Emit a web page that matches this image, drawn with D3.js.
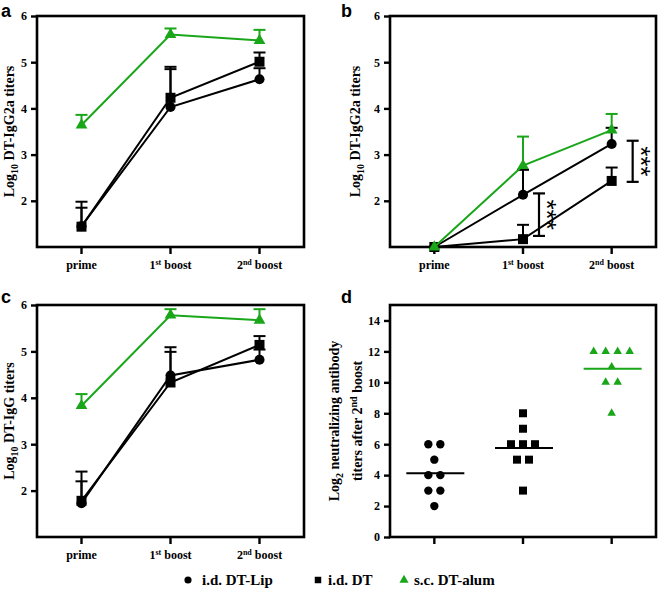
<!DOCTYPE html>
<html>
<head>
<meta charset="utf-8">
<script src="https://cdn.jsdelivr.net/npm/d3@7"></script>
<style>
  body { margin: 0; background: #fff; }
  svg { display: block; }
  text { font-family: "Liberation Serif", "Times New Roman", serif; font-weight: bold; fill: #000; }
</style>
</head>
<body>
<svg width="659" height="599"></svg>
<script>
const stages = ["prime", "1st boost", "2nd boost"];
const groups = ["i.d. DT-Lip", "i.d. DT", "s.c. DT-alum"];

// panel a - log10 DT-IgG2a (mean, upper error)
const aLip = [1.45, 4.03, 4.63];
const aLipErr = [1.85, 4.85, 4.87];
const aDT = [1.44, 4.23, 5.01];
const aDTErr = [1.98, 4.90, 5.21];
const aAlum = [3.64, 5.60, 5.47];
const aAlumErr = [3.86, 5.73, 5.70];

// panel b
const bLip = [1.0, 2.13, 3.23];
const bLipErr = [1.0, 2.67, 3.58];
const bDT = [1.0, 1.17, 2.43];
const bDTErr = [1.0, 1.48, 2.72];
const bAlum = [1.0, 2.76, 3.53];
const bAlumErr = [1.0, 3.39, 3.88];
const sigStage = ["1st boost", "2nd boost"];
const sigHi = [2.16, 3.30];
const sigLo = [1.24, 2.41];
const sigText = ["***", "***"];

// panel c - log10 DT-IgG
const cLip = [1.73, 4.48, 4.82];
const cLipErr = [2.20, 4.99, 5.04];
const cDT = [1.78, 4.33, 5.14];
const cDTErr = [2.41, 5.09, 5.33];
const cAlum = [3.83, 5.78, 5.67];
const cAlumErr = [4.08, 5.91, 5.91];

// panel d - log2 neutralizing titers, individual animals
const dLip = [6, 6, 5, 4, 4, 3, 3, 2];
const dDT = [8, 7, 6, 6, 6, 5, 5, 3];
const dAlum = [12, 12, 12, 12, 11, 10, 10, 8];

const green = "#19a619";
const colors = ["#000", "#000", green];
const shapes = [d3.symbolCircle, d3.symbolSquare, d3.symbolTriangle];

const svg = d3.select("svg");

function frame(g, box) {
  g.append("rect")
    .attr("x", box.l).attr("y", box.t)
    .attr("width", box.r - box.l).attr("height", box.b - box.t)
    .attr("fill", "none").attr("stroke", "#000").attr("stroke-width", 2.6);
}

function yAxis(g, y, box, ticks) {
  const ax = g.append("g")
    .attr("transform", `translate(${box.l},0)`)
    .call(d3.axisLeft(y).tickValues(ticks).tickFormat(d3.format("d")).tickSize(6).tickPadding(4));
  ax.attr("font-family", null);
  ax.select(".domain").remove();
  ax.selectAll(".tick line").attr("stroke-width", 2.4);
  ax.selectAll(".tick text")
    .style("font-family", "'Liberation Serif', serif").style("font-weight", "bold")
    .style("font-size", "12px");
}

function xTicks(g, x, box, withLabels) {
  stages.forEach(s => {
    g.append("line")
      .attr("x1", x(s)).attr("x2", x(s))
      .attr("y1", box.b).attr("y2", box.b + 7)
      .attr("stroke", "#000").attr("stroke-width", 2.4);
    if (!withLabels) return;
    const m = s.match(/^(\d)(st|nd|rd|th) (.*)$/);
    const t = g.append("text")
      .attr("x", x(s)).attr("y", box.b + 22)
      .attr("text-anchor", "middle").style("font-size", "12px");
    if (m) {
      t.append("tspan").text(m[1]);
      t.append("tspan").attr("dy", -4).style("font-size", "8px").text(m[2]);
      t.append("tspan").attr("dy", 4).text(" " + m[3]);
    } else {
      t.text(s);
    }
  });
}

function yLabel(g, x, yc, parts) {
  const t = g.append("text")
    .attr("transform", `translate(${x},${yc}) rotate(-90)`)
    .attr("text-anchor", "middle").style("font-size", "14px");
  parts.forEach(p => {
    const sp = t.append("tspan").text(p.t);
    if (p.sub) sp.attr("dy", 4).style("font-size", "10px");
    if (p.sup) sp.attr("dy", -5).style("font-size", "10px");
    if (p.back) sp.attr("dy", p.back);
  });
}

function panelLetter(x, y, s) {
  svg.append("text").attr("x", x).attr("y", y)
    .style("font-family", "'Liberation Sans', sans-serif").style("font-weight", "bold")
    .style("font-size", "18px").text(s);
}

function linePanel(box, series, errs, labelX, labelParts) {
  const g = svg.append("g");
  const x = d3.scalePoint().domain(stages).range([box.l, box.r]).padding(0.5);
  const y = d3.scaleLinear().domain([1, 6]).range([box.b, box.t]);

  frame(g, box);
  yAxis(g, y, box, [2, 3, 4, 5, 6]);
  xTicks(g, x, box, true);
  yLabel(g, labelX, (box.t + box.b) / 2, labelParts);

  const line = d3.line().x((d, i) => x(stages[i])).y(d => y(d));

  series.forEach((vals, k) => {
    const sg = g.append("g");
    // error bars (upper only)
    vals.forEach((v, i) => {
      const e = errs[k][i];
      if (e <= v) return;
      sg.append("line")
        .attr("x1", x(stages[i])).attr("x2", x(stages[i]))
        .attr("y1", y(v)).attr("y2", y(e))
        .attr("stroke", colors[k]).attr("stroke-width", 2);
      sg.append("line")
        .attr("x1", x(stages[i]) - 6).attr("x2", x(stages[i]) + 6)
        .attr("y1", y(e)).attr("y2", y(e))
        .attr("stroke", colors[k]).attr("stroke-width", 2);
    });
    sg.append("path").datum(vals)
      .attr("d", line).attr("fill", "none")
      .attr("stroke", colors[k]).attr("stroke-width", 2);
    sg.selectAll("path.pt").data(vals).join("path")
      .attr("class", "pt")
      .attr("transform", (d, i) => `translate(${x(stages[i])},${y(d)})`)
      .attr("d", d3.symbol().type(shapes[k]).size(k === 0 ? 80 : k === 1 ? 100 : 60))
      .attr("fill", colors[k]);
  });
  return { g, x, y };
}

const boxA = { l: 37, r: 304, t: 16, b: 247 };
const boxB = { l: 390, r: 656, t: 16, b: 247 };
const boxC = { l: 37, r: 304, t: 305, b: 537 };
const boxD = { l: 390, r: 656, t: 305, b: 537 };

const igg2a = [{ t: "Log" }, { t: "10", sub: true }, { t: " DT-IgG2a titers", back: -4 }];

linePanel(boxA, [aLip, aDT, aAlum], [aLipErr, aDTErr, aAlumErr], 14, igg2a);
const pb = linePanel(boxB, [bLip, bDT, bAlum], [bLipErr, bDTErr, bAlumErr], 360, igg2a);
linePanel(boxC, [cLip, cDT, cAlum], [cLipErr, cDTErr, cAlumErr], 14,
  [{ t: "Log" }, { t: "10", sub: true }, { t: " DT-IgG titers", back: -4 }]);

// significance brackets in b
const sigOffset = [16, 21];
sigStage.forEach((s, i) => {
  const bx = pb.x(s) + sigOffset[i];
  const y1 = pb.y(sigHi[i]), y2 = pb.y(sigLo[i]);
  const sg = pb.g.append("g").attr("stroke", "#000").attr("stroke-width", 2.2);
  sg.append("line").attr("x1", bx).attr("x2", bx).attr("y1", y1).attr("y2", y2);
  sg.append("line").attr("x1", bx - 6).attr("x2", bx + 6).attr("y1", y1).attr("y2", y1);
  sg.append("line").attr("x1", bx - 6).attr("x2", bx + 6).attr("y1", y2).attr("y2", y2);
  pb.g.append("text")
    .attr("transform", `translate(${bx - 1},${(y1 + y2) / 2}) rotate(90)`)
    .attr("text-anchor", "middle")
    .style("font-family", "'Liberation Sans', sans-serif")
    .style("font-weight", "normal").style("font-size", "26px")
    .text(sigText[i]);
});

// panel d
(function () {
  const g = svg.append("g");
  const x = d3.scalePoint().domain(groups).range([boxD.l, boxD.r]).padding(0.5);
  const y = d3.scaleLinear().domain([0, 15]).range([boxD.b, boxD.t]);
  frame(g, boxD);
  yAxis(g, y, boxD, d3.range(0, 15, 2));
  groups.forEach(s => {
    g.append("line")
      .attr("x1", x(s)).attr("x2", x(s))
      .attr("y1", boxD.b).attr("y2", boxD.b + 7)
      .attr("stroke", "#000").attr("stroke-width", 2.4);
  });
  yLabel(g, 339, (boxD.t + boxD.b) / 2,
    [{ t: "Log" }, { t: "2", sub: true }, { t: " neutralizing antibody", back: -4 }]);
  yLabel(g, 362, (boxD.t + boxD.b) / 2,
    [{ t: "titers after 2" }, { t: "nd", sup: true }, { t: " boost", back: 5 }]);

  [dLip, dDT, dAlum].forEach((vals, k) => {
    const cx = x(groups[k]);
    // spread tied values side by side
    const counts = d3.rollup(vals, v => v.length, d => d);
    const seen = new Map();
    const pts = vals.map(v => {
      const n = counts.get(v);
      const j = seen.get(v) || 0;
      seen.set(v, j + 1);
      return { v, dx: (j - (n - 1) / 2) * 12 };
    });
    g.selectAll(null).data(pts).join("path")
      .attr("transform", d => `translate(${cx + d.dx},${y(d.v)})`)
      .attr("d", d3.symbol().type(shapes[k]).size(k === 0 ? 55 : k === 1 ? 64 : 32))
      .attr("fill", colors[k]);
    const m = d3.mean(vals);
    g.append("line")
      .attr("x1", cx - 28).attr("x2", cx + 30)
      .attr("y1", y(m)).attr("y2", y(m))
      .attr("stroke", colors[k]).attr("stroke-width", 2);
  });
})();

panelLetter(1, 17, "a");
panelLetter(341, 17, "b");
panelLetter(1, 303, "c");
panelLetter(341, 303, "d");

// legend
const legX = [188, 318, 404];
const leg = svg.append("g");
groups.forEach((s, k) => {
  leg.append("path")
    .attr("transform", `translate(${legX[k]},${580})`)
    .attr("d", d3.symbol().type(shapes[k]).size(k === 0 ? 40 : k === 1 ? 42 : 36))
    .attr("fill", colors[k]);
  leg.append("text")
    .attr("x", legX[k] + (k === 0 ? 14 : 10)).attr("y", 585)
    .style("font-size", "15px").text(s);
});
</script>
</body>
</html>
